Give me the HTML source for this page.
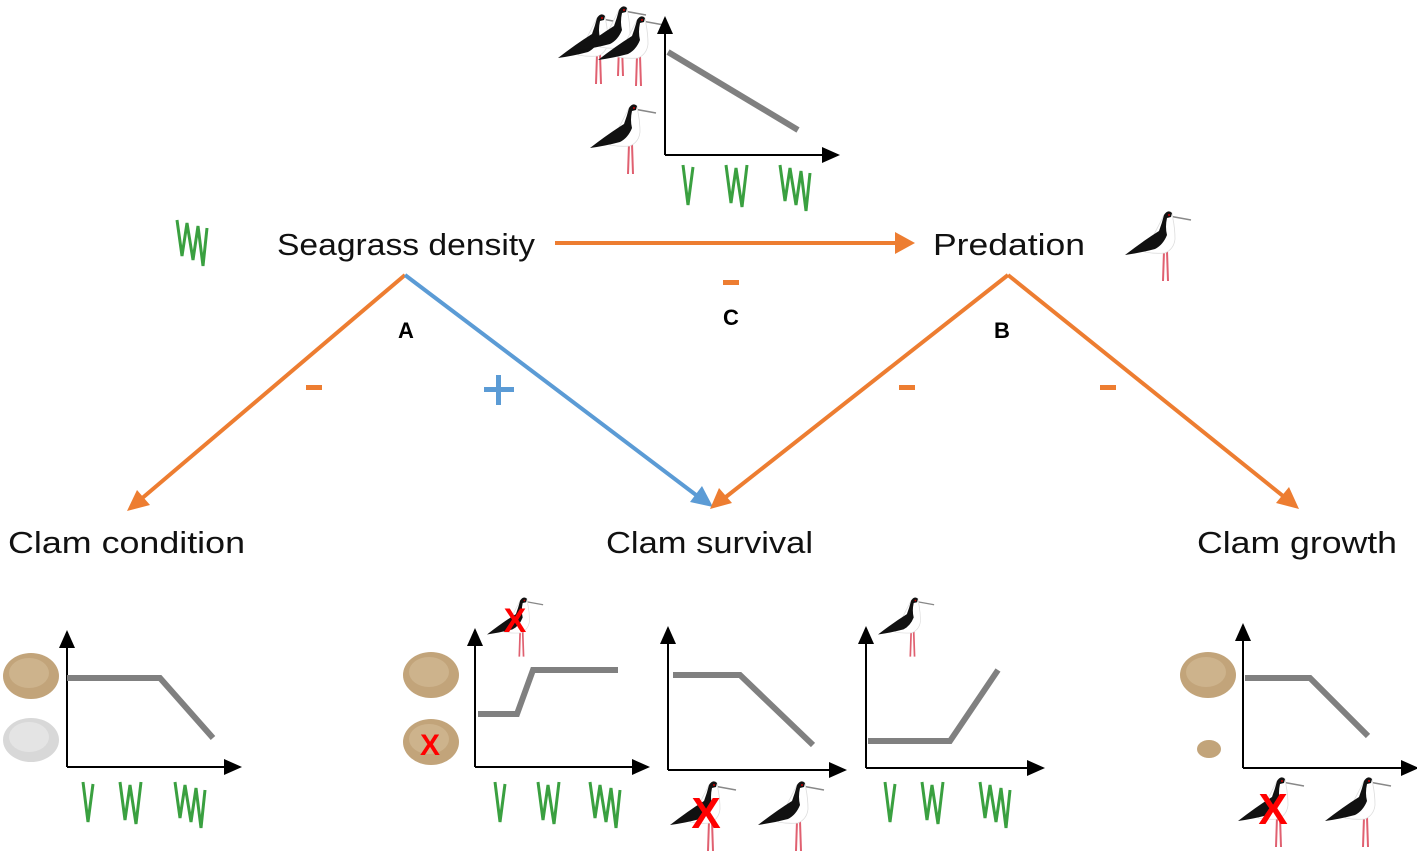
<!DOCTYPE html>
<html><head><meta charset="utf-8"><style>html,body{margin:0;padding:0;background:#fff}svg{display:block}</style></head>
<body>
<svg width="1417" height="851" viewBox="0 0 1417 851" xmlns="http://www.w3.org/2000/svg" font-family="Liberation Sans, sans-serif">
<defs>
<g id="bird">
  <path d="M38,76 L39,46 M43,76 L42,46" stroke="#e06070" stroke-width="2" fill="none"/>
  <path d="M44,11 L66,15" stroke="#888" stroke-width="1.5"/>
  <path d="M38,12 Q42,4 47,8 L48,14 Q50,24 50,34 Q49,44 40,48 Q30,49 20,47 Z" fill="#fff" stroke="#ddd" stroke-width="0.8"/>
  <path d="M39,10 Q43,4 47,8 L46,12 L42,13 Q40,22 42,30 Q38,40 30,44 Q15,48 0,50 Q18,36 34,26 Q37,18 39,10 Z" fill="#111"/>
  <circle cx="44" cy="10" r="1" fill="#c00"/>
</g>
<g id="g1"><path d="M0,0 L5,40 L10,2" stroke="#3aa040" stroke-width="3" fill="none"/></g>
<g id="g2"><path d="M0,0 L5,38 L10,3 L16,42 L21,0" stroke="#3aa040" stroke-width="3" fill="none"/></g>
<g id="g3"><path d="M0,0 L5,36 L10,3 L16,40 L21,6 L26,46 L30,8" stroke="#3aa040" stroke-width="3" fill="none"/></g>
<g id="clam"><ellipse cx="28" cy="23" rx="28" ry="23" fill="#c2a47a"/><ellipse cx="26" cy="20" rx="20" ry="15" fill="#cdb38c"/></g>
<marker id="ak" markerWidth="18" markerHeight="16" refX="16" refY="8" orient="auto" markerUnits="userSpaceOnUse"><path d="M0,0 L18,8 L0,16 Z" fill="#000"/></marker>
</defs>

<!-- top chart -->
<use href="#bird" x="558" y="8"/><use href="#bird" x="580" y="0"/><use href="#bird" x="598" y="10"/>
<use href="#bird" x="590" y="98"/>
<path d="M665,155 L665,18" stroke="#000" stroke-width="2" marker-end="url(#ak)"/>
<path d="M665,155 L838,155" stroke="#000" stroke-width="2" marker-end="url(#ak)"/>
<path d="M668,52 L798,130" stroke="#808080" stroke-width="6"/>
<use href="#g1" x="683" y="165"/><use href="#g2" x="726" y="165"/><use href="#g3" x="780" y="165"/>

<!-- main labels -->
<use href="#g3" x="177" y="220"/>
<text x="277" y="255" font-size="31" textLength="258" lengthAdjust="spacingAndGlyphs" fill="#111">Seagrass density</text>
<text x="933" y="255" font-size="31" textLength="152" lengthAdjust="spacingAndGlyphs" fill="#111">Predation</text>
<use href="#bird" x="1125" y="205"/>
<path d="M555,243 L895,243" stroke="#ed7d31" stroke-width="4"/>
<path d="M895,232 L915,243 L895,254 Z" fill="#ed7d31"/>
<rect x="723" y="280" width="16" height="5" fill="#ed7d31"/>
<text x="731" y="325" font-size="22" font-weight="bold" text-anchor="middle">C</text>

<path d="M405,275 L140,500" stroke="#ed7d31" stroke-width="4"/>
<path d="M127,511 L137,490 L150,505 Z" fill="#ed7d31"/>
<path d="M405,275 L700,498" stroke="#5b9bd5" stroke-width="4"/>
<path d="M713,507 L690,502 L702,486 Z" fill="#5b9bd5"/>
<path d="M1008,275 L722,500" stroke="#ed7d31" stroke-width="4"/>
<path d="M710,509 L719,488 L732,503 Z" fill="#ed7d31"/>
<path d="M1008,275 L1288,500" stroke="#ed7d31" stroke-width="4"/>
<path d="M1299,509 L1276,503 L1289,487 Z" fill="#ed7d31"/>
<text x="406" y="338" font-size="22" font-weight="bold" text-anchor="middle">A</text>
<text x="1002" y="338" font-size="22" font-weight="bold" text-anchor="middle">B</text>
<rect x="306" y="385" width="16" height="5" fill="#ed7d31"/>
<rect x="899" y="385" width="16" height="5" fill="#ed7d31"/>
<rect x="1100" y="385" width="16" height="5" fill="#ed7d31"/>
<rect x="484" y="387" width="30" height="5" fill="#5b9bd5"/><rect x="496" y="375" width="5" height="30" fill="#5b9bd5"/>

<text x="8" y="553" font-size="31" textLength="237" lengthAdjust="spacingAndGlyphs" fill="#111">Clam condition</text>
<text x="606" y="553" font-size="31" textLength="207" lengthAdjust="spacingAndGlyphs" fill="#111">Clam survival</text>
<text x="1197" y="553" font-size="31" textLength="200" lengthAdjust="spacingAndGlyphs" fill="#111">Clam growth</text>

<!-- chart 1 -->
<use href="#clam" x="3" y="653"/>
<g><ellipse cx="31" cy="740" rx="28" ry="22" fill="#d8d8d8"/><ellipse cx="29" cy="737" rx="20" ry="15" fill="#e4e4e4"/></g>
<path d="M67,767 L67,632" stroke="#000" stroke-width="2" marker-end="url(#ak)"/>
<path d="M67,767 L240,767" stroke="#000" stroke-width="2" marker-end="url(#ak)"/>
<path d="M67,678 L160,678 L213,738" stroke="#808080" stroke-width="6" fill="none"/>
<use href="#g1" x="83" y="782"/><use href="#g2" x="120" y="782"/><use href="#g3" x="175" y="782"/>

<!-- chart 2 -->
<use href="#bird" x="487" y="592" transform="translate(487,592) scale(0.85) translate(-487,-592)"/>
<text x="515" y="632" font-size="34" font-weight="bold" fill="#f00" text-anchor="middle">X</text>
<use href="#clam" x="403" y="652"/>
<use href="#clam" x="403" y="719"/>
<text x="430" y="755" font-size="30" font-weight="bold" fill="#f00" text-anchor="middle">X</text>
<path d="M475,767 L475,630" stroke="#000" stroke-width="2" marker-end="url(#ak)"/>
<path d="M475,767 L648,767" stroke="#000" stroke-width="2" marker-end="url(#ak)"/>
<path d="M478,714 L517,714 L533,670 L618,670" stroke="#808080" stroke-width="6" fill="none"/>
<use href="#g1" x="495" y="782"/><use href="#g2" x="538" y="782"/><use href="#g3" x="590" y="782"/>

<!-- chart 3 -->
<path d="M668,770 L668,628" stroke="#000" stroke-width="2" marker-end="url(#ak)"/>
<path d="M668,770 L845,770" stroke="#000" stroke-width="2" marker-end="url(#ak)"/>
<path d="M673,675 L740,675 L813,745" stroke="#808080" stroke-width="6" fill="none"/>
<use href="#bird" x="670" y="775"/>
<text x="706" y="828" font-size="44" font-weight="bold" fill="#f00" text-anchor="middle">X</text>
<use href="#bird" x="758" y="775"/>

<!-- chart 4 -->
<use href="#bird" x="878" y="592" transform="translate(878,592) scale(0.85) translate(-878,-592)"/>
<path d="M866,768 L866,628" stroke="#000" stroke-width="2" marker-end="url(#ak)"/>
<path d="M866,768 L1043,768" stroke="#000" stroke-width="2" marker-end="url(#ak)"/>
<path d="M868,741 L950,741 L998,670" stroke="#808080" stroke-width="6" fill="none"/>
<use href="#g1" x="885" y="782"/><use href="#g2" x="922" y="782"/><use href="#g3" x="980" y="782"/>

<!-- chart 5 -->
<use href="#clam" x="1180" y="652"/>
<ellipse cx="1209" cy="749" rx="12" ry="9" fill="#c2a47a"/>
<path d="M1243,768 L1243,625" stroke="#000" stroke-width="2" marker-end="url(#ak)"/>
<path d="M1243,768 L1417,768" stroke="#000" stroke-width="2" marker-end="url(#ak)"/>
<path d="M1245,678 L1310,678 L1368,736" stroke="#808080" stroke-width="6" fill="none"/>
<use href="#bird" x="1238" y="771"/>
<text x="1273" y="824" font-size="44" font-weight="bold" fill="#f00" text-anchor="middle">X</text>
<use href="#bird" x="1325" y="771"/>
</svg>
</body></html>
